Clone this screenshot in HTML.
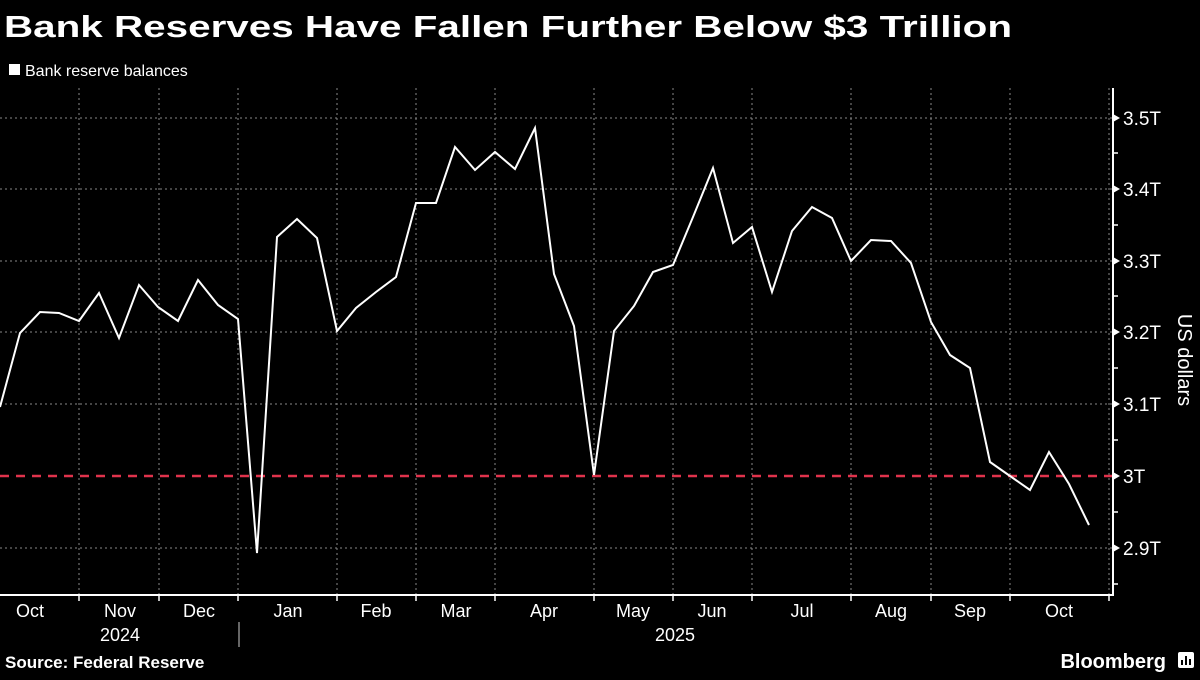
<!DOCTYPE html>
<html><head><meta charset="utf-8"><style>
body{margin:0;background:#000;width:1200px;height:675px;overflow:hidden;font-family:"Liberation Sans",sans-serif;color:#fff}
</style></head><body>
<svg width="1200" height="675" viewBox="0 0 1200 675" xmlns="http://www.w3.org/2000/svg" font-family="Liberation Sans, sans-serif">
<rect width="1200" height="675" fill="#000"/>
<text x="4" y="37" font-size="31" font-weight="bold" fill="#fff" textLength="1008" lengthAdjust="spacingAndGlyphs">Bank Reserves Have Fallen Further Below $3 Trillion</text>
<rect x="9" y="64" width="11" height="11" fill="#fff"/>
<text x="25" y="76" font-size="16" fill="#fff">Bank reserve balances</text>
<g stroke="#888" stroke-width="1" stroke-dasharray="2,3">
<line x1="0" y1="118" x2="1113" y2="118"/><line x1="0" y1="189" x2="1113" y2="189"/><line x1="0" y1="261" x2="1113" y2="261"/><line x1="0" y1="332" x2="1113" y2="332"/><line x1="0" y1="404" x2="1113" y2="404"/><line x1="0" y1="548" x2="1113" y2="548"/>
<line x1="79" y1="88" x2="79" y2="595"/><line x1="159" y1="88" x2="159" y2="595"/><line x1="238" y1="88" x2="238" y2="595"/><line x1="337" y1="88" x2="337" y2="595"/><line x1="416" y1="88" x2="416" y2="595"/><line x1="495" y1="88" x2="495" y2="595"/><line x1="594" y1="88" x2="594" y2="595"/><line x1="673" y1="88" x2="673" y2="595"/><line x1="752" y1="88" x2="752" y2="595"/><line x1="851" y1="88" x2="851" y2="595"/><line x1="931" y1="88" x2="931" y2="595"/><line x1="1010" y1="88" x2="1010" y2="595"/><line x1="1109" y1="88" x2="1109" y2="595"/>
</g>
<line x1="0" y1="476" x2="1113" y2="476" stroke="#e0334c" stroke-width="2.5" stroke-dasharray="9,7"/>
<polyline fill="none" stroke="#fff" stroke-width="2" stroke-linejoin="miter" points="0,407 20,333 40,312 59,313 79,321 99,293 119,338 139,285 158,307 178,321 198,280 218,305 238,319 257,553 277,237 297,219 317,238 337,331 356,308 376,292 396,277 416,203 436,203 455,147 475,170 495,152 515,169 535,128 554,274 574,326 594,475 614,331 634,306 653,272 673,265 693,217 713,168 733,243 752,227 772,292 792,231 812,207 832,218 851,261 871,240 891,241 911,263 931,322 950,355 970,368 990,462 1010,476 1030,490 1049,452 1069,484 1089,525"/>
<g stroke="#fff" stroke-width="2">
<line x1="1113" y1="88" x2="1113" y2="596"/>
<line x1="0" y1="595" x2="1114" y2="595"/>
</g>
<g stroke="#fff" stroke-width="1.5">
<line x1="79" y1="595" x2="79" y2="601"/><line x1="159" y1="595" x2="159" y2="601"/><line x1="238" y1="595" x2="238" y2="601"/><line x1="337" y1="595" x2="337" y2="601"/><line x1="416" y1="595" x2="416" y2="601"/><line x1="495" y1="595" x2="495" y2="601"/><line x1="594" y1="595" x2="594" y2="601"/><line x1="673" y1="595" x2="673" y2="601"/><line x1="752" y1="595" x2="752" y2="601"/><line x1="851" y1="595" x2="851" y2="601"/><line x1="931" y1="595" x2="931" y2="601"/><line x1="1010" y1="595" x2="1010" y2="601"/><line x1="1109" y1="595" x2="1109" y2="601"/>
<line x1="1113" y1="153" x2="1118" y2="153"/><line x1="1113" y1="225" x2="1118" y2="225"/><line x1="1113" y1="296" x2="1118" y2="296"/><line x1="1113" y1="368" x2="1118" y2="368"/><line x1="1113" y1="440" x2="1118" y2="440"/><line x1="1113" y1="512" x2="1118" y2="512"/><line x1="1113" y1="584" x2="1118" y2="584"/>
<line x1="239" y1="622" x2="239" y2="647" stroke="#888"/>
</g>
<g fill="#fff">
<path d="M1113,114 l7,4 l-7,4z"/><path d="M1113,185 l7,4 l-7,4z"/><path d="M1113,257 l7,4 l-7,4z"/><path d="M1113,328 l7,4 l-7,4z"/><path d="M1113,400 l7,4 l-7,4z"/><path d="M1113,472 l7,4 l-7,4z"/><path d="M1113,544 l7,4 l-7,4z"/>
</g>
<g font-size="19" fill="#fff">
<text x="1123" y="125">3.5T</text><text x="1123" y="196">3.4T</text><text x="1123" y="268">3.3T</text><text x="1123" y="339">3.2T</text><text x="1123" y="411">3.1T</text><text x="1123" y="483">3T</text><text x="1123" y="555">2.9T</text>
</g>
<text transform="translate(1178,360) rotate(90)" font-size="20" fill="#fff" text-anchor="middle">US dollars</text>
<g font-size="18" fill="#fff" text-anchor="middle">
<text x="30" y="617">Oct</text><text x="120" y="617">Nov</text><text x="199" y="617">Dec</text><text x="288" y="617">Jan</text><text x="376" y="617">Feb</text><text x="456" y="617">Mar</text><text x="544" y="617">Apr</text><text x="633" y="617">May</text><text x="712" y="617">Jun</text><text x="802" y="617">Jul</text><text x="891" y="617">Aug</text><text x="970" y="617">Sep</text><text x="1059" y="617">Oct</text>
<text x="120" y="641">2024</text><text x="675" y="641">2025</text>
</g>
<text x="5" y="668" font-size="17" font-weight="bold" fill="#fff">Source:  Federal Reserve</text>
<text x="1166" y="668" font-size="20" font-weight="bold" fill="#fff" text-anchor="end">Bloomberg</text>
<rect x="1178" y="652" width="16" height="16" rx="2" fill="#fff"/>
<g stroke="#000" stroke-width="2"><line x1="1182" y1="665" x2="1182" y2="660"/><line x1="1186" y1="665" x2="1186" y2="656"/><line x1="1190" y1="665" x2="1190" y2="659"/></g>
</svg>
</body></html>
